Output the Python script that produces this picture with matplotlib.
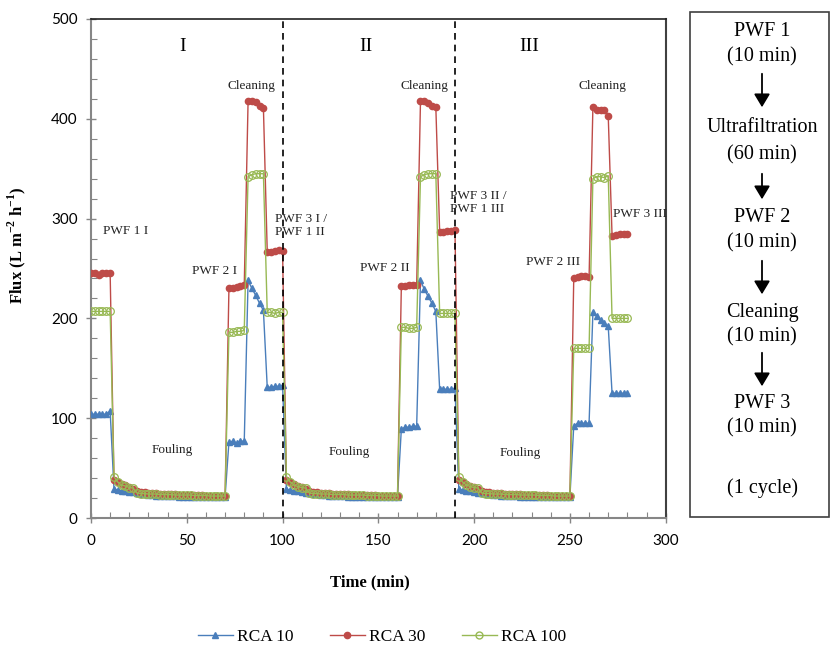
import numpy as np
import matplotlib
matplotlib.use("Agg")
import matplotlib.pyplot as plt
from matplotlib.patches import Rectangle, FancyArrowPatch
from matplotlib.lines import Line2D

plt.rcParams['mathtext.fontset'] = 'custom'
plt.rcParams['mathtext.rm'] = 'Liberation Serif'
plt.rcParams['mathtext.bf'] = 'Liberation Serif:bold'

# sampling times (min), every 2 min
time = np.arange(0, 282, 2)

# ---- RCA 10 ----
rca10_pwf1 = [104, 104, 104, 104, 104, 107]
rca10_foul_I = [29, 28, 27.5, 27, 26.5, 26, 25, 24.5, 24, 23.5, 23, 22.5, 22.5, 22, 22,
                22, 22, 21.5, 21.5, 21.5, 21.5, 21.5, 21.5, 21.5, 21.5, 21.5, 21.5, 21.5, 21.5, 21.5]
rca10_pwf2_I = [76, 77, 75, 77, 77]
rca10_clean_I = [238, 230, 223, 215, 208]
rca10_pwf3_I = [131, 131, 132, 132, 133]
rca10_foul_II = [29, 28, 27.5, 27, 26.5, 25.5, 25, 24.5, 24, 23.5, 23, 22.5, 22.5, 22, 22,
                 22, 21.5, 21.5, 21.5, 21.5, 21.5, 21.5, 21.5, 21.5, 21.5, 21.5, 21.5, 21.5, 21.5, 21.5]
rca10_pwf2_II = [89, 91, 91, 92, 92]
rca10_clean_II = [238, 229, 222, 215, 207]
rca10_pwf3_II = [129, 129, 129, 129, 130]
rca10_foul_III = [29, 28, 27.5, 27, 26, 25.5, 25, 24.5, 24, 23.5, 23, 22.5, 22.5, 22, 22,
                  22, 21.5, 21.5, 21.5, 21.5, 21.5, 21.5, 21.5, 21.5, 21.5, 21.5, 21.5, 21.5, 21.5, 21.5]
rca10_pwf2_III = [92, 95, 95, 95, 95]
rca10_clean_III = [206, 202, 198, 195, 192]
rca10_pwf3_III = [125, 125, 125, 125, 125]

# ---- RCA 30 ----
rca30_pwf1 = [245, 245, 243, 245, 245, 245]
rca30_foul_I = [38, 36, 34.5, 33, 31, 29.5, 27.5, 26.5, 26, 25.5, 25, 25, 24.5, 24.5, 24,
                24, 24, 23.5, 23.5, 23.5, 23, 23, 23, 23, 22.5, 22.5, 22.5, 22, 22, 22]
rca30_pwf2_I = [230, 230, 231, 232, 233]
rca30_clean_I = [418, 418, 417, 413, 411]
rca30_pwf3_I = [267, 267, 268, 269, 268]
rca30_foul_II = [38, 36, 34, 32.5, 31, 29, 27.5, 26.5, 26, 25.5, 25, 25, 24.5, 24.5, 24,
                 24, 24, 23.5, 23.5, 23.5, 23, 23, 23, 23, 22.5, 22.5, 22.5, 22, 22, 22]
rca30_pwf2_II = [232, 232, 233, 233, 233]
rca30_clean_II = [418, 418, 416, 413, 412]
rca30_pwf3_II = [287, 287, 288, 288, 289]
rca30_foul_III = [38, 36, 34, 32.5, 31, 29, 27.5, 26.5, 26, 25.5, 25, 25, 24.5, 24.5, 24,
                  24, 24, 23.5, 23.5, 23.5, 23, 23, 23, 23, 22.5, 22.5, 22.5, 22, 22, 22]
rca30_pwf2_III = [240, 241, 242, 242, 241]
rca30_clean_III = [412, 409, 409, 409, 403]
rca30_pwf3_III = [283, 284, 285, 285, 285]

# ---- RCA 100 ----
rca100_pwf1 = [207, 207, 207, 207, 207, 207]
rca100_foul_I = [41.5, 36, 33, 32, 30.5, 30, 25, 24.5, 24.5, 24, 24, 24, 23.5, 23.5, 23.5, 23.5,
                 23, 23, 23, 23, 23, 22.5, 22.5, 22.5, 22.5, 22, 22, 22, 22, 22]
rca100_pwf2_I = [186, 186, 187, 187, 188]
rca100_clean_I = [342, 344, 345, 345, 345]
rca100_pwf3_I = [206, 206, 205, 206, 206]
rca100_foul_II = [41.5, 36, 33, 31.5, 30.5, 30, 25, 24.5, 24.5, 24, 24, 24, 23.5, 23.5, 23.5, 23.5,
                  23, 23, 23, 23, 23, 22.5, 22.5, 22.5, 22.5, 22, 22, 22, 22, 22]
rca100_pwf2_II = [191, 191, 190, 190, 191]
rca100_clean_II = [342, 344, 345, 345, 345]
rca100_pwf3_II = [205, 205, 205, 205, 205]
rca100_foul_III = [41.5, 36, 33, 31.5, 30.5, 30, 25, 24.5, 24.5, 24, 24, 24, 23.5, 23.5, 23.5, 23.5,
                   23, 23, 23, 23, 23, 22.5, 22.5, 22.5, 22.5, 22, 22, 22, 22, 22]
rca100_pwf2_III = [170, 170, 170, 170, 170]
rca100_clean_III = [340, 342, 342, 341, 343]
rca100_pwf3_III = [200, 200, 200, 200, 200]

rca10 = (rca10_pwf1 + rca10_foul_I + rca10_pwf2_I + rca10_clean_I + rca10_pwf3_I
         + rca10_foul_II + rca10_pwf2_II + rca10_clean_II + rca10_pwf3_II
         + rca10_foul_III + rca10_pwf2_III + rca10_clean_III + rca10_pwf3_III)
rca30 = (rca30_pwf1 + rca30_foul_I + rca30_pwf2_I + rca30_clean_I + rca30_pwf3_I
         + rca30_foul_II + rca30_pwf2_II + rca30_clean_II + rca30_pwf3_II
         + rca30_foul_III + rca30_pwf2_III + rca30_clean_III + rca30_pwf3_III)
rca100 = (rca100_pwf1 + rca100_foul_I + rca100_pwf2_I + rca100_clean_I + rca100_pwf3_I
          + rca100_foul_II + rca100_pwf2_II + rca100_clean_II + rca100_pwf3_II
          + rca100_foul_III + rca100_pwf2_III + rca100_clean_III + rca100_pwf3_III)

cycle_bounds = [100, 190]
x_ticks = [0, 50, 100, 150, 200, 250, 300]
y_ticks = [0, 100, 200, 300, 400, 500]

C_BLUE = '#4A7EBB'
C_RED = '#BE4B48'
C_GREEN = '#98B954'

W, H = 830, 647
fig = plt.figure(figsize=(W / 100, H / 100), dpi=100)
ax = fig.add_axes([91 / W, (H - 518) / H, (665.7 - 91) / W, 499 / H])

serif = 'Liberation Serif'
tickfont = 'Lato'

ax.plot(time, rca10, color=C_BLUE, lw=1.0, marker='^', ms=4, mfc=C_BLUE, mec=C_BLUE,
        label='RCA 10', zorder=3)
ax.plot(time, rca30, color=C_RED, lw=1.0, marker='o', ms=4.5, mfc=C_RED, mec=C_RED,
        label='RCA 30', zorder=4)
ax.plot(time, rca100, color=C_GREEN, lw=1.0, marker='o', ms=5.5, mfc='none', mec=C_GREEN,
        mew=0.9, label='RCA 100', zorder=5)

for xb in cycle_bounds:
    ax.plot([xb, xb], [0, 500], color='black', lw=1.2, ls=(0, (4, 3)), zorder=6)

ax.set_xlim(0, 300)
ax.set_ylim(0, 500)
ax.set_xticks(x_ticks)
ax.set_yticks(y_ticks)
ax.set_xticks(np.arange(0, 301, 10), minor=True)
ax.set_yticks(np.arange(0, 501, 20), minor=True)
ax.tick_params(which='major', direction='inout', length=7, width=1.0, color='#868686',
               labelsize=11)
ax.tick_params(which='minor', direction='in', length=4, width=0.8, color='#868686')
for lab in ax.get_xticklabels() + ax.get_yticklabels():
    lab.set_fontfamily(tickfont)
ax.tick_params(axis='x', pad=8)
ax.tick_params(axis='y', pad=6)

ax.spines['left'].set_color('#868686')
ax.spines['bottom'].set_color('#868686')
ax.spines['left'].set_linewidth(1.5)
ax.spines['bottom'].set_linewidth(1.5)
ax.spines['top'].set_color('#222222')
ax.spines['top'].set_linewidth(1.2)
ax.spines['right'].set_color('#404040')
ax.spines['right'].set_linewidth(1.5)

ax.set_xlabel('Time (min)', fontfamily=serif, fontweight='bold', fontsize=12)
ax.xaxis.set_label_coords(0.485, -0.114)
ax.set_ylabel(r'Flux (L m$^{\mathbf{-2}}$ h$^{\mathbf{-1}}$)', fontfamily=serif,
              fontweight='bold', fontsize=12)
ax.yaxis.set_label_coords(-0.11, 0.547)

# annotations
tk = dict(fontfamily=serif, fontsize=9.5, color='#222222', zorder=7)
ax.text(48, 472, 'I', ha='center', va='center', fontfamily=serif, fontsize=14)
ax.text(143.5, 472, 'II', ha='center', va='center', fontfamily=serif, fontsize=14)
ax.text(229, 472, 'III', ha='center', va='center', fontfamily=serif, fontsize=14)

ax.text(6.5, 288, 'PWF 1 I', ha='left', va='center', **tk)
ax.text(64.7, 247.5, 'PWF 2 I', ha='center', va='center', **tk)
ax.text(84, 433, 'Cleaning', ha='center', va='center', **tk)
ax.text(96, 293.5, 'PWF 3 I /\nPWF 1 II', ha='left', va='center', linespacing=1.1, **tk)
ax.text(42.3, 68, 'Fouling', ha='center', va='center', **tk)

ax.text(153.5, 250.5, 'PWF 2 II', ha='center', va='center', **tk)
ax.text(174.3, 433, 'Cleaning', ha='center', va='center', **tk)
ax.text(187.4, 316.5, 'PWF 3 II /\nPWF 1 III', ha='left', va='center', linespacing=1.1, **tk)
ax.text(135, 66, 'Fouling', ha='center', va='center', **tk)

ax.text(241, 256.5, 'PWF 2 III', ha='center', va='center', **tk)
ax.text(266.8, 433, 'Cleaning', ha='center', va='center', **tk)
ax.text(272.5, 304.6, 'PWF 3 III', ha='left', va='center', **tk)
ax.text(224, 65, 'Fouling', ha='center', va='center', **tk)

# legend
handles = [Line2D([], [], color=C_BLUE, lw=1.0, marker='^', ms=4, mfc=C_BLUE, mec=C_BLUE),
           Line2D([], [], color=C_RED, lw=1.0, marker='o', ms=4.5, mfc=C_RED, mec=C_RED),
           Line2D([], [], color=C_GREEN, lw=1.0, marker='o', ms=5, mfc='none', mec=C_GREEN)]
fig.legend(handles, ['RCA 10', 'RCA 30', 'RCA 100'], loc='center',
           bbox_to_anchor=(382 / W, (H - 637) / H), ncol=3, frameon=False,
           prop={'family': serif, 'size': 12.5}, handlelength=2.0, columnspacing=2.1,
           handletextpad=0.25)

# right-hand process box
def fx(px):
    return px / W

def fy(py):
    return (H - py) / H

fig.add_artist(Rectangle((fx(690), fy(517)), fx(829) - fx(690), fy(12) - fy(517),
                         transform=fig.transFigure, fill=False, edgecolor='#404040', lw=1.2))
cx = fx(762)
box_text = dict(fontfamily=serif, fontsize=14.5, ha='center', va='center', color='black')
steps = [('PWF 1', 31), ('(10 min)', 57), ('Ultrafiltration', 128), ('(60 min)', 155),
         ('PWF 2', 218), ('(10 min)', 243), ('Cleaning', 312), ('(10 min)', 337),
         ('PWF 3', 403), ('(10 min)', 428), ('(1 cycle)', 488)]
for s, py in steps:
    fig.text(cx, fy(py), s, **box_text)
arrows = [(71, 110), (171, 202), (258, 297), (350, 389)]
for y0, y1 in arrows:
    fig.add_artist(FancyArrowPatch(
        (cx, fy(y0)), (cx, fy(y1)), transform=fig.transFigure,
        arrowstyle='-|>,head_length=5,head_width=3', mutation_scale=1.6,
        color='black', lw=1.3))

fig.savefig('out.png', dpi=100)
